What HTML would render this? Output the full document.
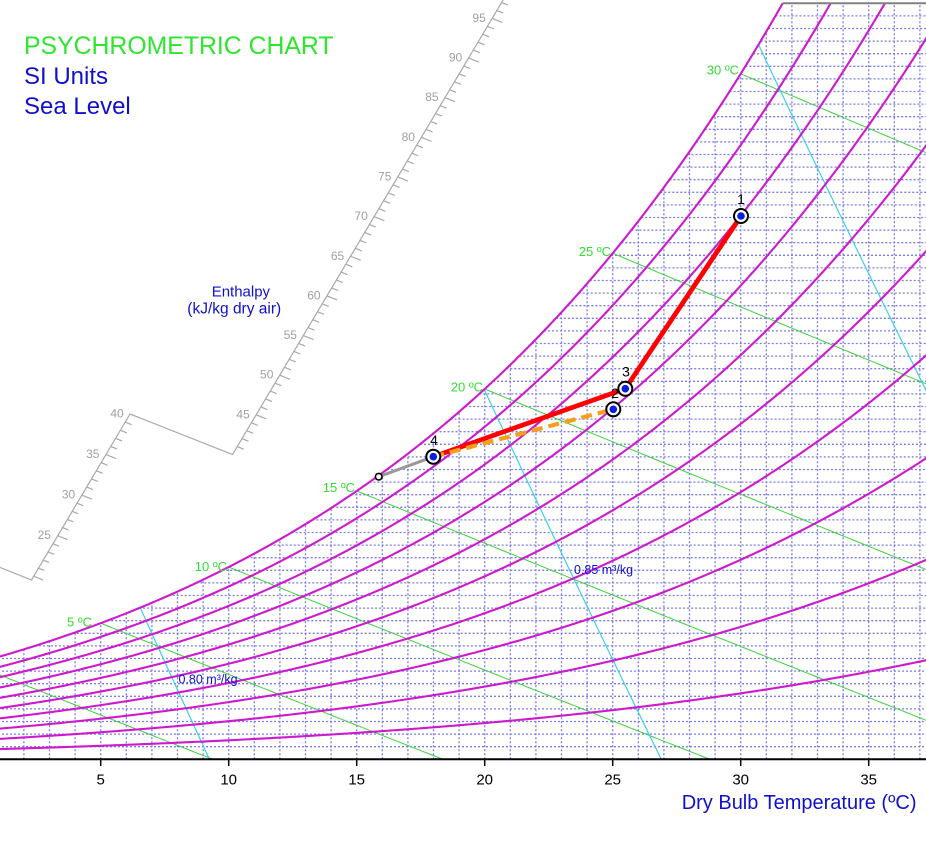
<!DOCTYPE html>
<html><head><meta charset="utf-8">
<style>
html,body{margin:0;padding:0;background:#fff;}
svg{display:block;font-family:"Liberation Sans",Arial,sans-serif;}
</style></head>
<body>
<svg id="c" width="926" height="845" viewBox="0 0 926 845" xmlns="http://www.w3.org/2000/svg">
<rect width="926" height="845" fill="#fff"/>
<g id="grid" stroke="#7c7ce6" stroke-width="1.3" stroke-dasharray="2,2" fill="none"></g>
<g id="wb" stroke="#3fcf3f" stroke-width="1" fill="none"></g>
<g id="vol" stroke="#3ad0ee" stroke-width="1.2" fill="none"></g>
<g id="rh" stroke="#cc1acc" stroke-width="2.1" fill="none"></g>
<line id="topline" x1="781" y1="3.3" x2="926" y2="3.3" stroke="#808080" stroke-width="2"/>

<!-- x axis -->
<line x1="0" y1="759.3" x2="926" y2="759.3" stroke="#000" stroke-width="2"/>
<g stroke="#000" stroke-width="1.5">
<line x1="100.7" y1="759" x2="100.7" y2="766"/>
<line x1="228.7" y1="759" x2="228.7" y2="766"/>
<line x1="356.7" y1="759" x2="356.7" y2="766"/>
<line x1="484.7" y1="759" x2="484.7" y2="766"/>
<line x1="612.7" y1="759" x2="612.7" y2="766"/>
<line x1="740.7" y1="759" x2="740.7" y2="766"/>
<line x1="868.7" y1="759" x2="868.7" y2="766"/>
</g>
<g font-size="15" fill="#000" text-anchor="middle">
<text x="100.7" y="784.5">5</text>
<text x="228.7" y="784.5">10</text>
<text x="356.7" y="784.5">15</text>
<text x="484.7" y="784.5">20</text>
<text x="612.7" y="784.5">25</text>
<text x="740.7" y="784.5">30</text>
<text x="868.7" y="784.5">35</text>
</g>
<text x="681.7" y="809" font-size="20" fill="#1010cc">Dry Bulb Temperature (ºC)</text>

<!-- enthalpy scale -->
<g stroke="#a8a8a8" stroke-width="1.2" fill="none">
<polyline points="0,567.4 31.5,580 130,414 232.5,454.5 503.4,-0.5"/>
</g>
<g id="eticks" stroke="#a8a8a8" stroke-width="1.2"></g>
<g font-size="12" fill="#a0a0a0" text-anchor="middle">
<text x="44.25" y="539">25</text>
<text x="68.5" y="498.5">30</text>
<text x="92.75" y="458">35</text>
<text x="117" y="417.5">40</text>
<text x="243.1" y="418.35">45</text>
<text x="266.7" y="378.7">50</text>
<text x="290.3" y="339.05">55</text>
<text x="313.9" y="299.4">60</text>
<text x="337.5" y="259.75">65</text>
<text x="361.1" y="220.1">70</text>
<text x="384.7" y="180.45">75</text>
<text x="408.3" y="140.8">80</text>
<text x="431.9" y="101.15">85</text>
<text x="455.5" y="61.5">90</text>
<text x="479.1" y="21.85">95</text>
</g>
<text x="211.7" y="296.7" font-size="15" fill="#1010cc">Enthalpy</text>
<text x="187.3" y="313.3" font-size="15.5" fill="#1010cc">(kJ/kg dry air)</text>

<!-- titles -->
<text x="24" y="54" font-size="24.8" fill="#2ee62e">PSYCHROMETRIC CHART</text>
<text x="24" y="84" font-size="24" fill="#1010cc">SI Units</text>
<text x="24" y="114" font-size="24" fill="#1010cc">Sea Level</text>

<!-- wet bulb labels -->
<g font-size="13" fill="#33dd33" text-anchor="end">
<text x="92" y="626.5">5 ºC</text>
<text x="227" y="571">10 ºC</text>
<text x="355" y="492">15 ºC</text>
<text x="483" y="391.5">20 ºC</text>
<text x="611" y="256">25 ºC</text>
<text x="739" y="74.5">30 ºC</text>
</g>
<!-- volume labels -->
<g font-size="12.5" fill="#1010cc">
<text x="574" y="574">0.85 m³/kg</text>
<text x="178.5" y="683.5">0.80 m³/kg</text>
</g>

<!-- process -->
<line x1="378.7" y1="476.7" x2="433.3" y2="456.7" stroke="#999" stroke-width="3"/>
<polyline points="741,216 625.3,388.7 433.3,456.7" fill="none" stroke="#ff0000" stroke-width="4.8" stroke-linejoin="round" stroke-linecap="round"/>
<line x1="433.3" y1="456.7" x2="613.3" y2="409.3" stroke="#f5a01a" stroke-width="4.2" stroke-dasharray="11,6"/>
<circle cx="378.7" cy="476.7" r="3.3" fill="#fff" stroke="#000" stroke-width="1.6"/>
<g>
<circle cx="741" cy="216" r="7" fill="#fff" stroke="#000" stroke-width="2"/><circle cx="741" cy="216" r="3.8" fill="#0a1ee0"/>
<circle cx="613.3" cy="409.3" r="7" fill="#fff" stroke="#000" stroke-width="2"/><circle cx="613.3" cy="409.3" r="3.8" fill="#0a1ee0"/>
<circle cx="625.3" cy="388.7" r="7" fill="#fff" stroke="#000" stroke-width="2"/><circle cx="625.3" cy="388.7" r="3.8" fill="#0a1ee0"/>
<circle cx="433.3" cy="456.7" r="7" fill="#fff" stroke="#000" stroke-width="2"/><circle cx="433.3" cy="456.7" r="3.8" fill="#0a1ee0"/>
</g>
<g font-size="14" fill="#000" text-anchor="middle">
<text x="741" y="204">1</text>
<text x="615" y="398">2</text>
<text x="626" y="376.7">3</text>
<text x="434" y="445">4</text>
</g>
</svg>
<script>
(function(){
var NS="http://www.w3.org/2000/svg";
var P=101325;
function pws(t){var T=t+273.15;return Math.exp(-5.8002206e3/T+1.3914993-4.8640239e-2*T+4.1764768e-5*T*T-1.4452093e-8*T*T*T+6.5459673*Math.log(T));}
function wOf(t,phi){var p=phi*pws(t);return 0.621945*p/(P-p);}
function X(t){return -27.3+25.6*t;}
function Y(w){return 759.3-25200*w;}
var WMAX=0.03;
function tdp(w){var a=-20,b=50;for(var i=0;i<60;i++){var m=(a+b)/2;if(wOf(m,1)<w)a=m;else b=m;}return (a+b)/2;}
function tAt(w,phi){var a=-20,b=60;for(var i=0;i<60;i++){var m=(a+b)/2;if(wOf(m,phi)<w)a=m;else b=m;}return (a+b)/2;}
function el(g,tag,attrs){var e=document.createElementNS(NS,tag);for(var k in attrs)e.setAttribute(k,attrs[k]);document.getElementById(g).appendChild(e);return e;}
function f(v){return v.toFixed(2);}
// grid
for(var t=1;t<=37;t++){
  var wt=Math.min(wOf(t,1),WMAX);
  el("grid","line",{x1:f(X(t)),y1:"759.3",x2:f(X(t)),y2:f(Y(wt))});
}
for(var k=1;k<=59;k++){
  var w=k*0.0005;var x1=X(tdp(w));
  el("grid","line",{x1:f(Math.max(x1,-2)),y1:f(Y(w)),x2:"928",y2:f(Y(w))});
}
// RH curves
for(var i=1;i<=10;i++){
  var phi=i/10;var pts=[];
  for(var t=-2;t<=40;t+=0.1){
    var w=wOf(t,phi);
    if(w>WMAX){var te=tAt(WMAX,phi);pts.push(f(X(te))+","+f(Y(WMAX)));break;}
    pts.push(f(X(t))+","+f(Y(w)));
  }
  el("rh","polyline",{points:pts.join(" ")});
}
// wet bulb lines
var wbs=[0,5,10,15,20,25,30];
for(var j=0;j<wbs.length;j++){
  var tw=wbs[j];var ws=wOf(tw,1);var pts=[];
  for(var t=tw;t<=45;t+=0.25){
    var w=((2501-2.326*tw)*ws-1.006*(t-tw))/(2501+1.86*t-4.186*tw);
    if(w<0){var t0=tw+(2501-2.326*tw)*ws/1.006;pts.push(f(X(t0))+","+f(Y(0)));break;}
    pts.push(f(X(t))+","+f(Y(w)));
  }
  el("wb","polyline",{points:pts.join(" ")});
}
// volume lines
var vs=[0.80,0.85,0.90];
for(var j=0;j<vs.length;j++){
  var v=vs[j];var pts=[];
  for(var w=0;w<=0.031;w+=0.0002){
    var t=v*P/(287.042*(1+1.607858*w))-273.15;
    if(w>wOf(t,1)){
      var a=w-0.0002,b=w;
      for(var q=0;q<40;q++){var m=(a+b)/2;var tm=v*P/(287.042*(1+1.607858*m))-273.15;if(m>wOf(tm,1))b=m;else a=m;}
      var tt=v*P/(287.042*(1+1.607858*a))-273.15;
      pts.push(f(X(tt))+","+f(Y(a)));break;
    }
    pts.push(f(X(t))+","+f(Y(w)));
  }
  el("vol","polyline",{points:pts.join(" ")});
}
// top line start
var tl=document.getElementById("topline");tl.setAttribute("x1",f(X(tdp(WMAX))));
// enthalpy ticks
var dx=0.929,dy=0.37;
for(var h=20;h<=40;h++){
  var px=130+(h-40)*4.85,py=414-(h-40)*8.1;var L=(h%5==0)?11:7;
  el("eticks","line",{x1:f(px),y1:f(py),x2:f(px+dx*L),y2:f(py+dy*L)});
}
for(var h=41;h<=97;h++){
  var px=232.5+(h-40)*4.72,py=454.5-(h-40)*7.93;var L=(h%5==0)?11:7;
  el("eticks","line",{x1:f(px),y1:f(py),x2:f(px+dx*L),y2:f(py+dy*L)});
}
})();
</script>
</body></html>
